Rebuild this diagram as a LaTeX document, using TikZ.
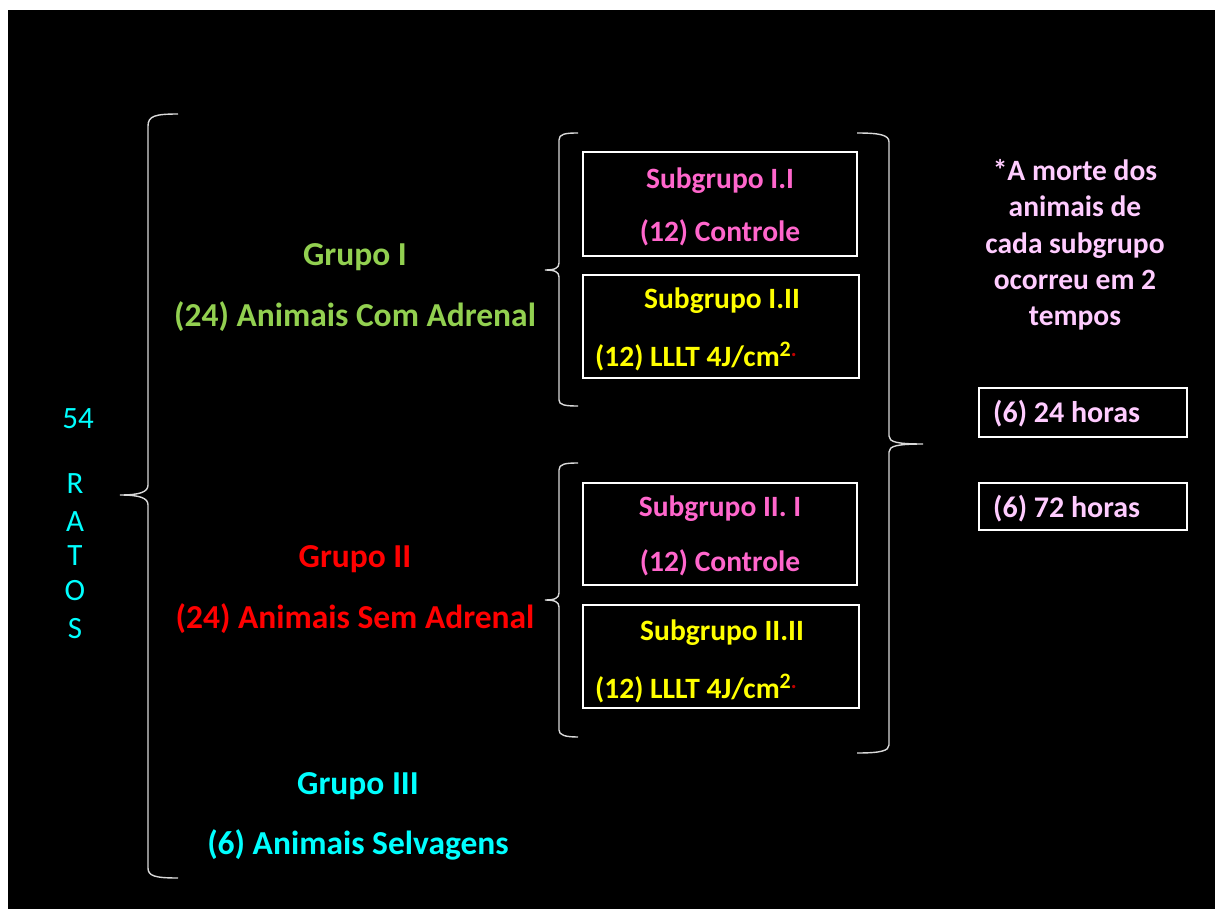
\documentclass[tikz,border=0pt]{standalone}
\usepackage{fontspec}
\setmainfont{Carlito}
\definecolor{cgreen}{HTML}{92D050}
\definecolor{cpink}{HTML}{FF66CC}
\definecolor{clpink}{HTML}{FFCCFF}
\definecolor{cyel}{HTML}{FFFF00}
\definecolor{ccyan}{HTML}{00FFFF}
\definecolor{cred}{HTML}{FF0000}
\definecolor{cdot}{HTML}{C00000}
\tikzset{
  brace/.style={draw=white!85!black, line width=1.4pt},
  sbox/.style={draw=white, line width=1.4pt},
  big/.style={font=\bfseries\fontsize{33.5}{40}\selectfont, inner sep=0pt},
  med/.style={font=\bfseries\fontsize{29.5}{35}\selectfont, inner sep=0pt},
  reg/.style={font=\fontsize{31}{36}\selectfont, inner sep=0pt, text=ccyan},
}
\newcommand{\sqcm}{cm\raisebox{0.33em}{\fontsize{22}{24}\selectfont 2}\textcolor{cdot}{\raisebox{0.33em}{\fontsize{22}{24}\selectfont .}}}
\begin{document}
\begin{tikzpicture}[x=1pt,y=-1pt]
\fill[white] (0,0) rectangle (1215,909);
\fill[black] (8,10) rectangle (1215,909);
\useasboundingbox (0,0) rectangle (1215,909);

% big left brace
\coordinate (t0) at (120,495);
\draw[brace] (178,114) .. controls (155,114) and (148,116) .. (148,126) -- (148,485)
  .. controls (148,492) and (140,495) .. (t0)
  .. controls (140,495) and (148,498) .. (148,505) -- (148,868)
  .. controls (148,876) and (155,878) .. (178,878);
% brace group I
\coordinate (t1) at (545,270);
\draw[brace] (578,133) .. controls (565,133) and (559,134) .. (559,140) -- (559,263)
  .. controls (559,268) and (555,270) .. (t1)
  .. controls (555,270) and (559,272) .. (559,277) -- (559,400)
  .. controls (559,405) and (565,406) .. (578,406);
% brace group II
\coordinate (t2) at (545,600);
\draw[brace] (578,463) .. controls (565,463) and (559,464) .. (559,470) -- (559,593)
  .. controls (559,598) and (555,600) .. (t2)
  .. controls (555,600) and (559,602) .. (559,607) -- (559,730)
  .. controls (559,735) and (565,737) .. (578,737);
% right brace
\coordinate (t3) at (923,444);
\draw[brace] (857,133) .. controls (880,133) and (889,135) .. (889,142) -- (889,436)
  .. controls (889,442) and (897,444) .. (t3)
  .. controls (897,444) and (889,446) .. (889,452) -- (889,745)
  .. controls (889,751) and (880,753) .. (857,753);

% boxes
\draw[sbox] (583,152) rectangle (857,256);
\draw[sbox] (583,275) rectangle (859,378);
\draw[sbox] (583,483) rectangle (857,585);
\draw[sbox] (583,605) rectangle (859,708);
\draw[sbox] (979,388) rectangle (1187,437);
\draw[sbox] (979,483) rectangle (1187,530);

% left texts
\node[reg] (n54) at (78,419) {54};
\node[reg] (lr) at (75,484) {R};
\node[reg] (la) at (75,522) {A};
\node[reg] (lt) at (75,556) {T};
\node[reg] (lo) at (75,591) {O};
\node[reg] (ls) at (75,629) {S};

\node[big, text=cgreen] (g1) at (355,257) {Grupo I};
\node[big, text=cgreen] (g1b) at (355,317) {(24) Animais Com Adrenal};
\node[big, text=cred] (g2) at (355,559) {Grupo II};
\node[big, text=cred] (g2b) at (355,619) {(24) Animais Sem Adrenal};
\node[big, text=ccyan] (g3) at (358,786) {Grupo III};
\node[big, text=ccyan] (g3b) at (358,845) {(6) Animais Selvagens};

% box texts
\node[med, text=cpink] (s11) at (720,181) {Subgrupo I.I};
\node[med, text=cpink] (s11b) at (720,233) {(12) Controle};
\node[med, text=cyel] (s12) at (722,301) {Subgrupo I.II};
\node[med, text=cyel, anchor=base west] (s12b) at (595,366) {(12) LLLT 4J/\sqcm};
\node[med, text=cpink] (s21) at (720,509) {Subgrupo II. I};
\node[med, text=cpink] (s21b) at (720,563) {(12) Controle};
\node[med, text=cyel] (s22) at (722,633) {Subgrupo II.II};
\node[med, text=cyel, anchor=base west] (s22b) at (595,698) {(12) LLLT 4J/\sqcm};

% note
\node[med, text=clpink, align=center, font=\bfseries\fontsize{29.5}{36.3}\selectfont] (note) at (1075,245) {*A morte dos\\animais de\\cada subgrupo\\ocorreu em 2\\tempos};
\node[med, text=clpink, anchor=west, font=\bfseries\fontsize{30}{35}\selectfont] (h24) at (993,414) {(6) 24 horas};
\node[med, text=clpink, anchor=west, font=\bfseries\fontsize{30}{35}\selectfont] (h72) at (993,509) {(6) 72 horas};
\end{tikzpicture}
\end{document}
